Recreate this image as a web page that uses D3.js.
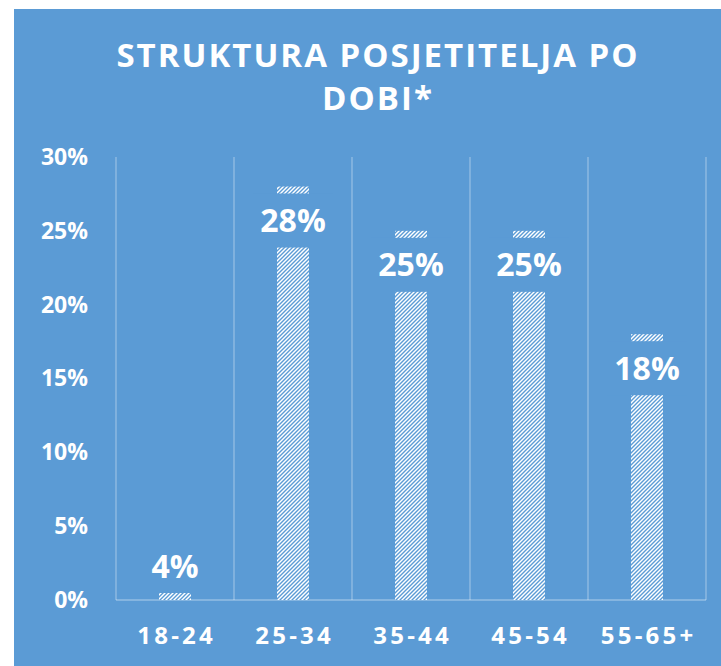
<!DOCTYPE html>
<html>
<head>
<meta charset="utf-8">
<script src="https://cdn.jsdelivr.net/npm/d3@7"></script>
<style>
html,body{margin:0;padding:0;background:#fff;}
svg{display:block;}
text{font-family:"Open Sans",sans-serif;font-weight:700;fill:#fff;}
</style>
</head>
<body>
<script>
const categories = ["18-24", "25-34", "35-44", "45-54", "55-65+"];
const values = [0.04, 0.28, 0.25, 0.25, 0.18];
const valueLabels = ["4%", "28%", "25%", "25%", "18%"];
const yTicks = [0, 0.05, 0.10, 0.15, 0.20, 0.25, 0.30];
const titleLines = ["STRUKTURA POSJETITELJA PO", "DOBI*"];

const W = 721, H = 666;
const bg = "#5B9BD5";
const grid = "rgba(255,255,255,0.35)";

const svg = d3.select("body").append("svg").attr("width", W).attr("height", H);

const defs = svg.append("defs");
const pat = defs.append("pattern").attr("id", "hatch")
  .attr("patternUnits", "userSpaceOnUse").attr("width", 4).attr("height", 4);
pat.append("rect").attr("width", 4).attr("height", 4).attr("fill", "#fff");
pat.append("path").attr("d", "M-1,1 L1,-1 M0,4 L4,0 M3,5 L5,3")
  .attr("stroke", bg).attr("stroke-width", 1.4);

svg.append("rect").attr("x", 14).attr("y", 9).attr("width", W).attr("height", H).attr("fill", bg);

const x = d3.scaleBand().domain(categories).range([116, 706]).paddingInner(0).paddingOuter(0);
const y = d3.scaleLinear().domain([0, 0.30]).range([600, 157]);

// vertical gridlines at category boundaries
const bounds = categories.map(c => x(c)).concat([x.range()[1]]);
svg.append("g").selectAll("line").data(bounds).join("line")
  .attr("x1", d => d).attr("x2", d => d)
  .attr("y1", y(0.30)).attr("y2", y(0))
  .attr("stroke", grid).attr("stroke-width", 1.3);

// axis line
svg.append("line").attr("x1", x.range()[0]).attr("x2", x.range()[1])
  .attr("y1", y(0)).attr("y2", y(0)).attr("stroke", grid).attr("stroke-width", 1.3);

// y tick labels
const yAxis = d3.axisLeft(y).tickValues(yTicks).tickFormat(d3.format(".0%")).tickSize(0).tickPadding(0);
const ya = svg.append("g").attr("transform", "translate(88,0)").call(yAxis);
ya.select(".domain").remove();
ya.selectAll("text").attr("font-size", 23).attr("fill", "#fff")
  .style("font-family", '"Open Sans",sans-serif').style("font-weight", 700);

// x labels
const ls = 3.2;
const xAxis = d3.axisBottom(x).tickSize(0).tickPadding(0);
const xa = svg.append("g").attr("transform", `translate(${ls / 2},636)`).call(xAxis);
xa.select(".domain").remove();
xa.selectAll("text").attr("font-size", 24).attr("fill", "#fff").attr("dy", "0.35em")
  .attr("letter-spacing", ls)
  .style("font-family", '"Open Sans",sans-serif').style("font-weight", 700);

// bars
const bw = 32;
svg.append("g").selectAll("rect").data(values).join("rect")
  .attr("x", (d, i) => x(categories[i]) + x.bandwidth() / 2 - bw / 2)
  .attr("y", d => y(d))
  .attr("width", bw)
  .attr("height", d => y(0) - y(d))
  .attr("fill", "url(#hatch)");

// data labels with background box
const boxH = 54, boxW = 80, inset = 7;
const lab = svg.append("g").selectAll("g").data(values).join("g")
  .attr("transform", (d, i) => {
    let top = y(d) + inset;
    if (top + boxH > y(0) - inset) top = y(0) - inset - boxH;
    return `translate(${x(categories[i]) + x.bandwidth() / 2},${top + boxH / 2})`;
  });
lab.append("rect").attr("x", -boxW / 2).attr("y", -boxH / 2).attr("width", boxW).attr("height", boxH).attr("fill", bg);
lab.append("text").attr("text-anchor", "middle").attr("dy", "0.36em")
  .attr("font-size", 32).text((d, i) => valueLabels[i]);

// title
const tls = 2;
svg.append("g").selectAll("text").data(titleLines).join("text")
  .attr("x", 377 + tls / 2).attr("y", (d, i) => 55 + i * 43)
  .attr("dy", "0.36em").attr("text-anchor", "middle")
  .attr("font-size", 33).attr("letter-spacing", tls)
  .text(d => d);
</script>
</body>
</html>
